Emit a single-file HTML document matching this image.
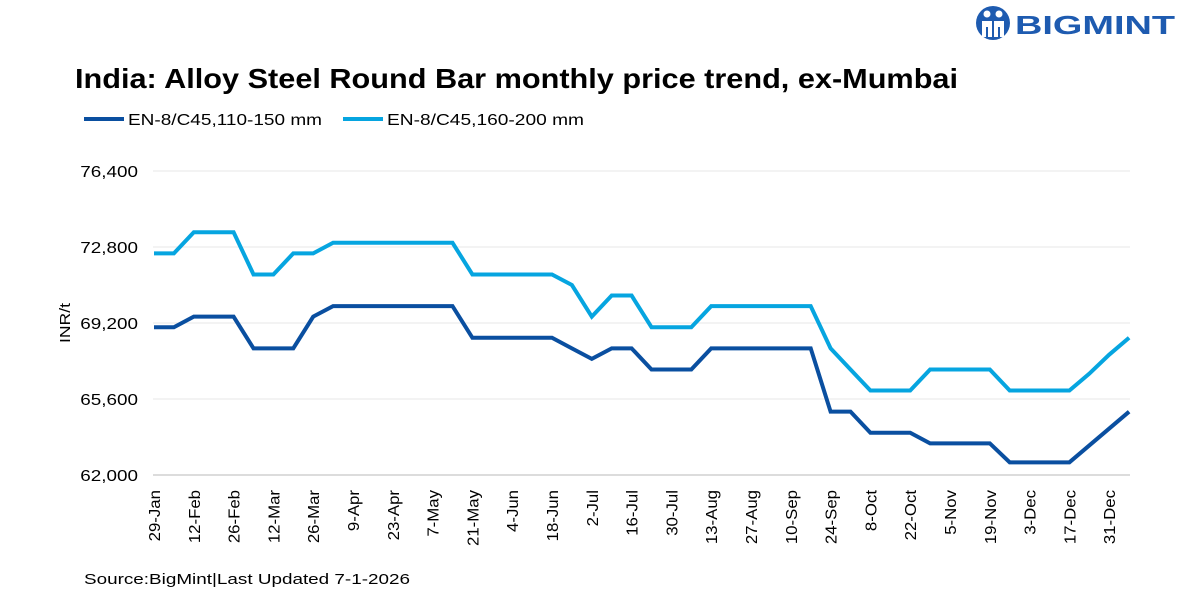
<!DOCTYPE html>
<html><head><meta charset="utf-8"><style>
body{margin:0;background:#fff;font-family:"Liberation Sans",Arial,sans-serif;}
#wrap{position:relative;width:1200px;height:599px;overflow:hidden;}
</style></head><body>
<div id="wrap">
<svg id="chart" width="1200" height="599" xmlns="http://www.w3.org/2000/svg">
  <g>
    <circle cx="993" cy="23" r="17" fill="#1e5bb0"/>
    <circle cx="987" cy="14" r="3.5" fill="#fff"/>
    <circle cx="999" cy="14" r="3.5" fill="#fff"/>
    <path d="M982 21 h10 v16 h-4 v-10 h-2 v10 h-4z M994 21 h10 v16 h-4 v-10 h-2 v10 h-4z" fill="#fff"/>
    <text x="1015" y="34" font-size="26" font-weight="bold" fill="#1e5bb0" textLength="160" lengthAdjust="spacingAndGlyphs">BIGMINT</text>
  </g>
  <text x="75" y="88" font-size="28" font-weight="bold" fill="#000" textLength="883" lengthAdjust="spacingAndGlyphs">India: Alloy Steel Round Bar monthly price trend, ex-Mumbai</text>
  <g>
    <g>
      <line x1="84" y1="119" x2="124" y2="119" stroke="#0a4fa0" stroke-width="4"/>
      <text x="128" y="125" font-size="16" fill="#000" textLength="194" lengthAdjust="spacingAndGlyphs">EN-8/C45,110-150 mm</text>
    </g>
    <g>
      <line x1="343" y1="119" x2="383" y2="119" stroke="#06a5e0" stroke-width="4"/>
      <text x="387" y="125" font-size="16" fill="#000" textLength="197" lengthAdjust="spacingAndGlyphs">EN-8/C45,160-200 mm</text>
    </g>
  </g>
  <text transform="translate(70,323) rotate(-90)" text-anchor="middle" font-size="15" fill="#000" textLength="40" lengthAdjust="spacingAndGlyphs">INR/t</text>
  <g id="grid"></g><g id="yticks"></g><g id="xticks"></g><g id="series"></g>
  <text x="84" y="584" font-size="15" fill="#000" textLength="326" lengthAdjust="spacingAndGlyphs">Source:BigMint|Last Updated 7-1-2026</text>
</svg>
</div>
<script>
const categories=["29-Jan","5-Feb","12-Feb","19-Feb","26-Feb","5-Mar","12-Mar","19-Mar","26-Mar","2-Apr","9-Apr","16-Apr","23-Apr","30-Apr","7-May","14-May","21-May","28-May","4-Jun","11-Jun","18-Jun","25-Jun","2-Jul","9-Jul","16-Jul","23-Jul","30-Jul","6-Aug","13-Aug","20-Aug","27-Aug","3-Sep","10-Sep","17-Sep","24-Sep","1-Oct","8-Oct","15-Oct","22-Oct","29-Oct","5-Nov","12-Nov","19-Nov","26-Nov","3-Dec","10-Dec","17-Dec","24-Dec","31-Dec","7-Jan"];
const series110=[69000,69000,69500,69500,69500,68000,68000,68000,69500,70000,70000,70000,70000,70000,70000,70000,68500,68500,68500,68500,68500,68000,67500,68000,68000,67000,67000,67000,68000,68000,68000,68000,68000,68000,65000,65000,64000,64000,64000,63500,63500,63500,63500,62600,62600,62600,62600,63400,64200,65000];
const series160=[72500,72500,73500,73500,73500,71500,71500,72500,72500,73000,73000,73000,73000,73000,73000,73000,71500,71500,71500,71500,71500,71000,69500,70500,70500,69000,69000,69000,70000,70000,70000,70000,70000,70000,68000,67000,66000,66000,66000,67000,67000,67000,67000,66000,66000,66000,66000,66800,67700,68500];
const yTicks=[62000,65600,69200,72800,76400];
const yTickLabels=["62,000","65,600","69,200","72,800","76,400"];

const NS="http://www.w3.org/2000/svg";
const L=154,R=1130,T=171,B=475,step=19.9;
const x=i=>L+i*step;
const y=v=>B-(v-62000)/(76400-62000)*(B-T);
function mk(tag,attrs,parent){const e=document.createElementNS(NS,tag);for(const k in attrs)e.setAttribute(k,attrs[k]);document.getElementById(parent).appendChild(e);return e;}
function stretch(t,f){const w=t.getComputedTextLength();t.setAttribute('textLength',(w*f).toFixed(1));t.setAttribute('lengthAdjust','spacingAndGlyphs');}
yTicks.forEach((v,i)=>{
  const g=mk('line',{x1:L-1,x2:R,y1:y(v),y2:y(v),stroke:i===0?'#d0d0d0':'#ececec','stroke-width':i===0?1.5:1.2},'grid');
  
  
  const t=mk('text',{x:138,y:y(v)+6,'text-anchor':'end','font-size':16,fill:'#000'},'yticks');
  t.textContent=yTickLabels[i];
  
  
  stretch(t,1.18);
});
categories.forEach((c,i)=>{
  if(i%2!==0||i>48)return;
  const t=mk('text',{transform:`translate(${x(i)+6},490) rotate(-90)`,'text-anchor':'end','font-size':16,fill:'#000'},'xticks');
  t.textContent=c;
  
  
  stretch(t,1.05);
});
function line(data,color,name){
  const p=mk('polyline',{points:data.map((v,i)=>x(i)+','+y(v)).join(' '),fill:'none',stroke:color,'stroke-width':4,'stroke-linejoin':'miter'},'series');
  
  
}
line(series160,'#06a5e0','line-160-200mm');
line(series110,'#0a4fa0','line-110-150mm');
</script>
</body></html>
